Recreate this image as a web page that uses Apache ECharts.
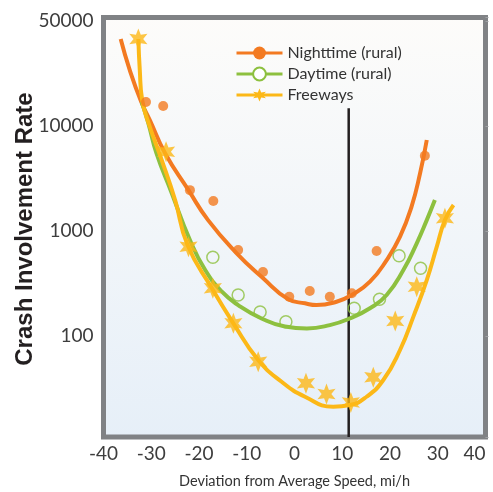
<!DOCTYPE html>
<html>
<head>
<meta charset="utf-8">
<script src="https://cdn.jsdelivr.net/npm/echarts@6/dist/echarts.min.js"></script>
<style>
  html, body { margin: 0; padding: 0; background: #ffffff; }
  #chart { width: 493px; height: 492px; }
</style>
</head>
<body>
<div id="chart"></div>
<script>
// Observed crash involvement rates by deviation from average speed
const nightX = [-31.1, -27.5, -21.9, -17.0, -11.8, -6.6, -1.1, 3.2, 7.4, 12.0, 17.2, 27.3];
const nightY = [16900, 15500, 2450, 1930, 659, 407, 237, 268, 237, 255, 645, 5210];

const dayX = [-17.1, -11.8, -7.2, -1.8, 12.5, 17.8, 21.9, 26.4];
const dayY = [562, 246, 169, 137, 184, 224, 582, 442];

const freeX = [-32.7, -26.9, -22.2, -17.1, -12.8, -7.6, 2.4, 6.7, 11.8, 16.5, 21.1, 25.6, 31.5];
const freeY = [67400, 5690, 709, 285, 132, 56.9, 35.5, 28.0, 23.3, 40.5, 139, 295, 1320];

// Fitted U-shaped curves
const nightCurveX = [-36.4, -34.5, -32.1, -30.3, -27.1, -22.2, -18.1, -12.1, -6.9, -1.2, 2.2, 4.6, 8.8, 12.0, 15.8, 19.3, 22.1, 24.5, 26.3, 27.7];
const nightCurveY = [67500, 34100, 17000, 11400, 5500, 2450, 1270, 614, 367, 223, 205, 197, 212, 246, 329, 529, 883, 1700, 3550, 7360];

const dayCurveX = [-32.0, -30.6, -28.9, -25.7, -21.9, -18.7, -15.2, -11.8, -6.9, -2.0, 2.6, 7.4, 11.6, 15.8, 19.3, 22.8, 25.6, 27.7, 29.4];
const dayCurveY = [17000, 10600, 5500, 2290, 820, 425, 264, 197, 147, 123, 118, 127, 147, 184, 246, 425, 764, 1270, 1970];

const freeCurveX = [-32.7, -32.4, -31.9, -30.3, -27.8, -25.0, -22.4, -17.3, -12.8, -7.6, -2.7, 2.2, 8.1, 11.6, 15.1, 18.6, 22.1, 24.9, 27.7, 29.8, 31.5, 33.3];
const freeCurveY = [67400, 34100, 17700, 9840, 4740, 1970, 736, 285, 132, 59.0, 36.7, 26.4, 21.2, 22.0, 26.4, 38.1, 73.6, 153, 341, 709, 1270, 1770];

// Reference speed marker
const refLineX = 11.35;
const refLineTop = 14800;

// Axis ticks and labels
const xMin = -40, xMax = 40, xStep = 10;
const yMin = 10.92, yMax = 108000;
const yTickValues = [100, 1000, 10000, 100000];
const yTickText = ['100', '1000', '10000', '50000'];

const seriesNames = ['Nighttime (rural)', 'Daytime (rural)', 'Freeways'];
const colors = { night: '#F37A21', day: '#8DC03F', free: '#FCB817' };

function pairs(xs, ys) { return xs.map((x, i) => [x, ys[i]]); }

// six-pointed star marker
function starPath(points, outer, inner) {
  let d = '';
  for (let i = 0; i < points * 2; i++) {
    const a = (-90 + i * 180 / points) * Math.PI / 180;
    const r = i % 2 === 0 ? outer : inner;
    d += (i === 0 ? 'M' : 'L') + (r * Math.cos(a)).toFixed(3) + ' ' + (r * Math.sin(a)).toFixed(3) + ' ';
  }
  return 'path://' + d + 'Z';
}
const star = starPath(6, 10, 4.6);

const chart = echarts.init(document.getElementById('chart'), null, { renderer: 'canvas' });

const labelFont = 'Lato, "Open Sans", sans-serif';

chart.setOption({
  animation: false,
  backgroundColor: '#ffffff',
  grid: {
    left: 103.5, top: 17.5, right: 7.5, bottom: 55,
    outerBoundsMode: 'none',
    containLabel: false,
    show: true,
    borderColor: '#808285',
    borderWidth: 5,
    backgroundColor: new echarts.graphic.LinearGradient(0, 0, 0, 1, [
      { offset: 0, color: '#fdfcfa' },
      { offset: 1, color: '#e6eff8' }
    ])
  },
  legend: {
    data: seriesNames,
    orient: 'vertical',
    left: 230, top: 40,
    itemWidth: 46, itemHeight: 16, itemGap: 5,
    lineStyle: { width: 3 },
    textStyle: { fontFamily: labelFont, fontSize: 16, color: '#333333' }
  },
  graphic: [{
    type: 'text',
    x: 25, y: 229,
    rotation: Math.PI / 2,
    style: {
      text: 'Crash Involvement Rate',
      align: 'center', verticalAlign: 'middle',
      font: 'bold 24px "Liberation Sans", Arial, sans-serif',
      fill: '#231f20'
    }
  }],
  xAxis: {
    type: 'value',
    min: xMin, max: xMax, interval: xStep,
    splitLine: { show: false },
    axisLine: { show: false },
    axisTick: { show: false },
    axisLabel: { fontFamily: labelFont, fontSize: 19, color: '#3d3d3d', margin: 7, alignMaxLabel: 'right' },
    name: 'Deviation from Average Speed, mi/h',
    nameLocation: 'middle',
    nameGap: 37,
    nameTextStyle: { fontFamily: labelFont, fontSize: 14.5, color: '#333333' }
  },
  yAxis: [{
    type: 'log',
    min: yMin, max: yMax,
    splitLine: { show: false },
    axisLine: { show: false },
    axisTick: { show: false },
    axisLabel: {
      fontFamily: labelFont, fontSize: 19, color: '#3d3d3d', margin: 10,
      formatter: function (v) {
        for (let i = 0; i < yTickValues.length; i++) {
          if (Math.abs(v - yTickValues[i]) / yTickValues[i] < 1e-6) return yTickText[i];
        }
        return '';
      }
    }
  }, {
    type: 'log',
    position: 'right',
    min: yMin, max: yMax,
    splitLine: { show: false },
    axisLine: { show: false },
    axisLabel: { show: false },
    axisTick: { show: true, length: 3, lineStyle: { color: '#a0a2a5', width: 1 } }
  }],
  series: [
    {
      name: seriesNames[0], type: 'line', smooth: true, showSymbol: false,
      symbol: 'circle', symbolSize: 10, z: 3,
      lineStyle: { color: colors.night, width: 4 },
      itemStyle: { color: colors.night },
      data: pairs(nightCurveX, nightCurveY)
    },
    {
      name: seriesNames[1], type: 'line', smooth: true, showSymbol: false,
      symbol: 'emptyCircle', symbolSize: 12, z: 3,
      lineStyle: { color: colors.day, width: 4 },
      itemStyle: { color: colors.day },
      data: pairs(dayCurveX, dayCurveY)
    },
    {
      name: seriesNames[2], type: 'line', smooth: true, showSymbol: false,
      symbol: star, symbolSize: 14, symbolKeepAspect: true, z: 3,
      lineStyle: { color: colors.free, width: 4 },
      itemStyle: { color: colors.free },
      data: pairs(freeCurveX, freeCurveY)
    },
    {
      name: 'refLine', type: 'line', showSymbol: false, z: 2, silent: true,
      lineStyle: { color: '#231f20', width: 2.5 },
      data: [[refLineX, yMin], [refLineX, refLineTop]]
    },
    {
      name: seriesNames[0], type: 'scatter', symbol: 'circle', symbolSize: 10, z: 4,
      itemStyle: { color: colors.night },
      data: pairs(nightX, nightY)
    },
    {
      name: seriesNames[1], type: 'scatter', symbol: 'circle', symbolSize: 12, z: 4,
      itemStyle: { color: 'rgba(255,255,255,0)', borderColor: colors.day, borderWidth: 1.5 },
      data: pairs(dayX, dayY)
    },
    {
      name: seriesNames[2], type: 'scatter', symbol: star, symbolSize: 21, symbolKeepAspect: true, z: 4,
      itemStyle: { color: colors.free },
      data: pairs(freeX, freeY)
    }
  ]
});
</script>
</body>
</html>
